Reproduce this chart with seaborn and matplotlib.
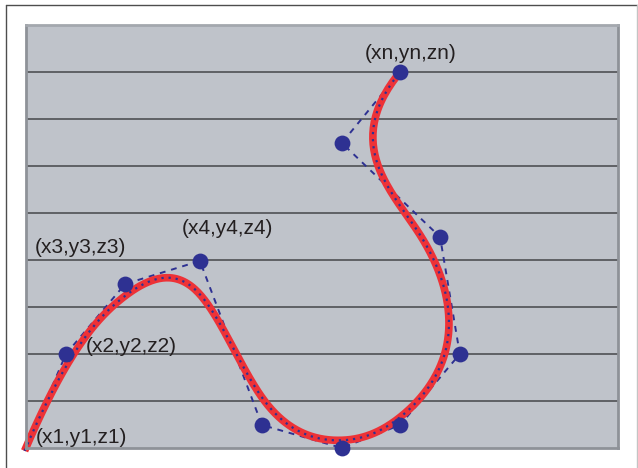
import numpy as np
import pandas as pd
import matplotlib
matplotlib.use("Agg")
import matplotlib.pyplot as plt
import seaborn as sns
from matplotlib.lines import Line2D

# punkty kontrolne (jednostka = jeden pas siatki)
ctrl_x = [-0.03, 0.85, 2.11, 3.70, 5.02, 6.72, 7.96, 9.23, 8.81, 6.72, 7.96]
ctrl_y = [-0.06, 2.00, 3.49, 3.98, 0.49, 0.00, 0.49, 2.00, 4.49, 6.49, 8.00]
labels = ["(x1,y1,z1)", "(x2,y2,z2)", "(x3,y3,z3)", "(x4,y4,z4)", "(xn,yn,zn)"]
label_pos = [(0.21, 0.23), (1.28, 2.15), (0.19, 4.26), (3.32, 4.68), (7.21, 8.40)]

panel_col = "#bfc3ca"
blue = "#2e3192"
red = "#ed3237"


def bspline(px, py, k=3, n=500):
    # krzywa B-sklejana (clamped) z punktow kontrolnych
    P = np.column_stack([px, py])
    m = len(P)
    t = np.concatenate([np.zeros(k), np.linspace(0, 1, m - k + 1), np.ones(k)])
    out = []
    for u in np.linspace(0, 1, n):
        s = min(np.searchsorted(t, u, side="right") - 1, m - 1)
        d = [P[j + s - k].copy() for j in range(k + 1)]
        for r in range(1, k + 1):
            for j in range(k, r - 1, -1):
                i = j + s - k
                a = (u - t[i]) / (t[i + k + 1 - r] - t[i])
                d[j] = (1 - a) * d[j - 1] + a * d[j]
        out.append(d[k])
    return np.array(out)


curve = bspline(ctrl_x, ctrl_y, k=3)
df_ctrl = pd.DataFrame({"x": ctrl_x, "y": ctrl_y})
df_curve = pd.DataFrame({"x": curve[:, 0], "y": curve[:, 1]})

sns.set_style("white")
plt.rcParams["font.family"] = ["Liberation Sans", "DejaVu Sans"]

fig = plt.figure(figsize=(6.38, 4.68), dpi=100)
# ramka zewnetrzna
W, H = 638, 468
fig.add_artist(Line2D([5.5 / W, 5.5 / W], [0, 1 - 5 / H], color="#4d4d4d", lw=1.0))
fig.add_artist(Line2D([5.5 / W, 636.5 / W], [1 - 5 / H, 1 - 5 / H], color="#4d4d4d", lw=1.0))
fig.add_artist(Line2D([636.5 / W, 636.5 / W], [0, 1 - 5 / H], color="#c4c4c4", lw=1.0))

ax = fig.add_axes([26 / W, 20 / H, 592 / W, 423 / H])
ax.set_facecolor(panel_col)
ax.set_xlim(0, 592 / 47)
ax.set_ylim(0, 9)
ax.set_yticks(range(1, 9))
ax.set_xticks([])
ax.tick_params(length=0, labelleft=False)
ax.grid(axis="y", color="#5f6165", lw=1.4)
ax.grid(axis="x", visible=False)
for sp in ax.spines.values():
    sp.set_color("#8e9298")
    sp.set_linewidth(2)
ax.spines["top"].set_color("#a4a8ae")

# wielobok kontrolny
sns.lineplot(data=df_ctrl, x="x", y="y", sort=False, estimator=None, ax=ax,
             color=blue, lw=1.4, linestyle=(0, (3, 3)))
# krzywa
sns.lineplot(data=df_curve, x="x", y="y", sort=False, estimator=None, ax=ax,
             color=red, lw=5.5)
sns.lineplot(data=df_curve, x="x", y="y", sort=False, estimator=None, ax=ax,
             color=blue, lw=1.6, linestyle=(0, (1, 2.2)))
for ln in ax.lines:
    ln.set_clip_on(False)
    ln.set_solid_capstyle("butt")

sns.scatterplot(data=df_ctrl.iloc[1:], x="x", y="y", ax=ax, color=blue, s=130,
                linewidth=0, zorder=5, clip_on=False)

for txt, (lx, ly) in zip(labels, label_pos):
    ax.text(lx, ly, txt, fontsize=15, color="#231f20", va="center", ha="left")

ax.set_xlabel("")
ax.set_ylabel("")
fig.savefig("out.png", dpi=100)
